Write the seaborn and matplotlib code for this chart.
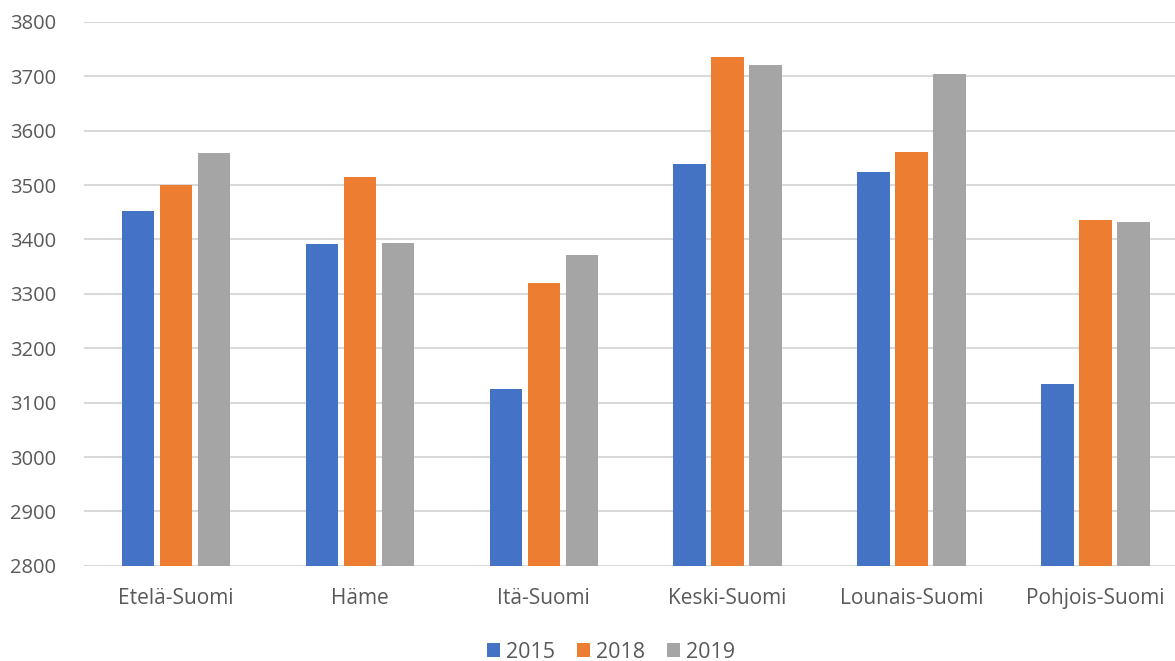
import seaborn as sns
import pandas as pd
import matplotlib.pyplot as plt

# Data
regions = ["Etelä-Suomi", "Häme", "Itä-Suomi", "Keski-Suomi", "Lounais-Suomi", "Pohjois-Suomi"]
years = ["2015", "2018", "2019"]
values_2015 = [3452, 3391, 3125, 3538, 3524, 3135]
values_2018 = [3500, 3515, 3320, 3735, 3560, 3435]
values_2019 = [3559, 3394, 3372, 3721, 3704, 3432]
colors = ["#4472C4", "#ED7D31", "#A5A5A5"]

# Long-form table for seaborn
data = pd.DataFrame({
    "region": regions * 3,
    "year": [y for y in years for _ in regions],
    "value": values_2015 + values_2018 + values_2019,
})

sns.set_style("white")
plt.rcParams["font.family"] = ["Open Sans", "DejaVu Sans"]

fig = plt.figure(figsize=(11.75, 6.61), dpi=100)
# axes runs a little past the right edge, like the source chart
ax = fig.add_axes([0.0715, 0.144, 0.939, 0.823])

sns.barplot(data=data, x="region", y="value", hue="year", order=regions,
            hue_order=years, palette=colors, width=0.62, gap=0.15,
            saturation=1, linewidth=0, ax=ax, zorder=3)

# Axis range and grid
ax.set_ylim(2800, 3800)
ax.set_yticks(range(2800, 3801, 100))
ax.set_xlim(-0.5, 5.5)
ax.grid(axis="y", color="#D9D9D9", linewidth=1.5, zorder=0)
ax.set_axisbelow(True)
for side in ["top", "right", "left", "bottom"]:
    ax.spines[side].set_visible(False)

ax.set_xlabel("")
ax.set_ylabel("")
ax.tick_params(axis="both", length=0, labelsize=14.5, labelcolor="#595959")
ax.tick_params(axis="x", labelsize=15)
ax.tick_params(axis="y", pad=20)
ax.tick_params(axis="x", pad=16)

# Legend below the chart
ax.legend(loc="center", bbox_to_anchor=(0.52, 0.013), bbox_transform=fig.transFigure,
          ncol=3, frameon=False, fontsize=15.5, labelcolor="#595959",
          handlelength=0.6, handleheight=0.6, handletextpad=0.3, columnspacing=1.0)

plt.savefig("out.png", dpi=100)
